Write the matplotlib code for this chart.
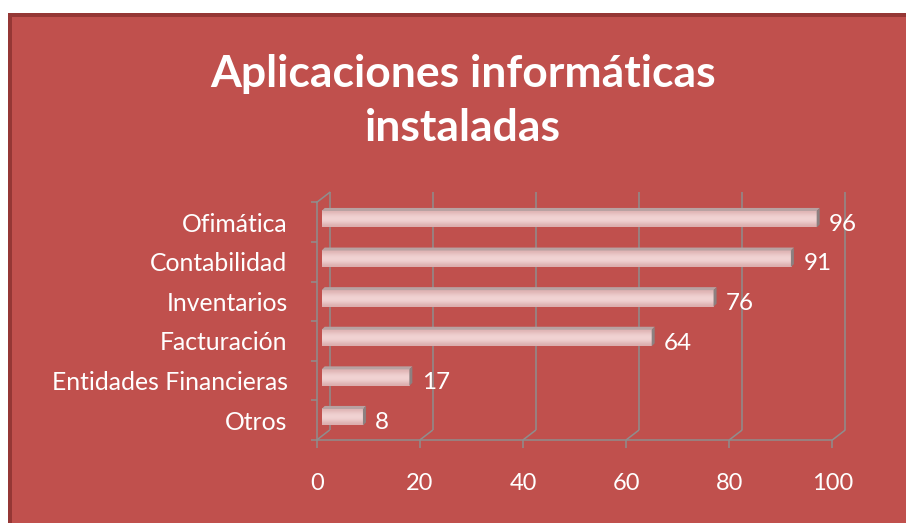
import numpy as np
import matplotlib
matplotlib.use('Agg')
import matplotlib.pyplot as plt
from matplotlib.patches import Rectangle, Polygon

# ---------------- data ----------------
categories = ["Ofimática", "Contabilidad", "Inventarios", "Facturación",
              "Entidades Financieras", "Otros"]
values = [96, 91, 76, 64, 17, 8]
xticks = [0, 20, 40, 60, 80, 100]
title = "Aplicaciones informáticas\ninstaladas"

plt.rcParams['font.family'] = ['Lato', 'DejaVu Sans']

W, H, DPI = 906, 523, 100
fig = plt.figure(figsize=(W / DPI, H / DPI), dpi=DPI, facecolor='white')


def fx(px):
    return px / W


def fy(py):
    return 1 - py / H


# frame / background
fig.add_artist(Rectangle((fx(8), 0), 1.01 - fx(8), fy(13), transform=fig.transFigure,
                         facecolor='#953735', edgecolor='none', zorder=-10))
fig.add_artist(Rectangle((fx(12), 0), 1.01 - fx(12), fy(17), transform=fig.transFigure,
                         facecolor='#C0504D', edgecolor='none', zorder=-9))

# front plane of the 3D box
L, R, T, B = 316.7, 832.3, 202.4, 440.0
ax = fig.add_axes([fx(L), fy(B), (R - L) / W, (B - T) / H])
ax.patch.set_visible(False)
n = len(categories)
ax.set_xlim(0, 100)
ax.set_ylim(n - 0.5, -0.5)

ux = 100 / (R - L)          # data units per pixel (x)
uy = n / (B - T)            # data units per pixel (y)

GRID = '#8E8E8E'
LW = 1.1

# back wall offsets
bdx, bdy = 13 * ux, -10 * uy
for t in xticks:
    ax.plot([t, t + bdx], [n - 0.5, n - 0.5 + bdy], color=GRID, lw=LW, clip_on=False,
            solid_capstyle='butt')
    ax.plot([t + bdx, t + bdx], [n - 0.5 + bdy, -0.5 + bdy], color=GRID, lw=LW,
            clip_on=False, solid_capstyle='butt')
ax.plot([0, bdx], [-0.5, -0.5 + bdy], color=GRID, lw=LW, clip_on=False)

# spines
for s in ['top', 'right']:
    ax.spines[s].set_visible(False)
for s in ['left', 'bottom']:
    ax.spines[s].set_color(GRID)
    ax.spines[s].set_linewidth(LW)

ax.set_xticks(xticks)
ax.set_xticklabels([str(t) for t in xticks])
ax.tick_params(axis='x', direction='out', length=5.8, width=LW, color=GRID,
               labelcolor='white', labelsize=17, pad=18)
ax.set_yticks(range(n))
ax.set_yticklabels(categories)
ax.set_yticks(np.arange(-0.5, n, 1.0), minor=True)
ax.tick_params(axis='y', which='major', length=0, labelcolor='white', labelsize=17.8, pad=21)
ax.tick_params(axis='y', which='minor', direction='out', length=4, width=LW, color=GRID)

# bars (3D look)
bx, by = 5 * ux, -3 * uy
h = 16.5 * uy
ddx, ddy = 3 * ux, -3 * uy
grad_cols = np.array([[0.87, 0.70, 0.70], [0.93, 0.80, 0.80], [0.95, 0.84, 0.84],
                      [0.93, 0.80, 0.80], [0.86, 0.68, 0.68]])
grad = grad_cols.reshape(-1, 1, 3)
for i, v in enumerate(values):
    top = i + by - h / 2
    bot = i + by + h / 2
    x0, x1 = bx, v + bx
    ax.imshow(grad, extent=[x0, x1, bot, top], aspect='auto', interpolation='bicubic',
              zorder=3, clip_on=False)
    ax.add_patch(Polygon([(x0, top), (x1, top), (x1 + ddx, top + ddy), (x0 + ddx, top + ddy)],
                         closed=True, facecolor='#B8A2A2', edgecolor='none', zorder=3,
                         clip_on=False))
    ax.add_patch(Polygon([(x1, top), (x1 + ddx, top + ddy), (x1 + ddx, bot + ddy), (x1, bot)],
                         closed=True, facecolor='#8C8080', edgecolor='none', zorder=3,
                         clip_on=False))
    ax.annotate(str(v), (v, i), xytext=(17.4 * 0.72, 0), textcoords='offset points',
                ha='left', va='center_baseline', color='white', fontsize=17.5,
                annotation_clip=False)

ax.set_xlim(0, 100)
ax.set_ylim(n - 0.5, -0.5)

fig.text(fx(463), fy(101), title, ha='center', va='center', fontsize=32,
         fontweight='bold', color='white', linespacing=1.4)

fig.savefig('out.png', dpi=DPI, facecolor=fig.get_facecolor())
